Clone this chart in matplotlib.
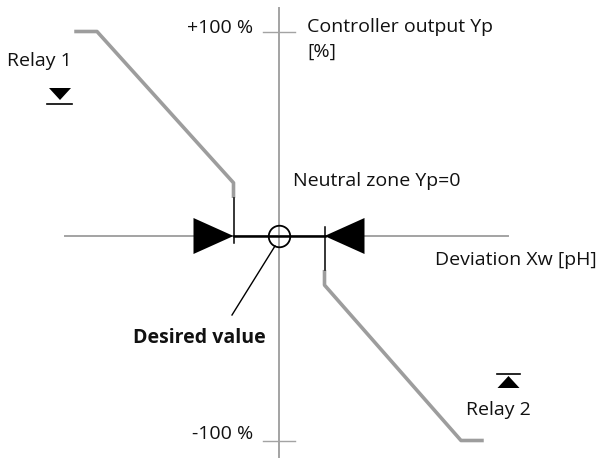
import matplotlib
matplotlib.use("Agg")
import matplotlib.pyplot as plt

plt.rcParams['font.family'] = ['Open Sans', 'DejaVu Sans']

# controller characteristic (x: deviation, y: controller output in %)
relay1_x = [-4.5, -4.0, -1.0, -1.0]
relay1_y = [100, 100, 26, 18.6]
relay2_x = [1.0, 1.0, 4.0, 4.5]
relay2_y = [-16.6, -24, -100, -100]
neutral_x = [-1.0, 1.0]
neutral_y = [0, 0]
tick1_y = [18.6, -3.4]
tick2_y = [4.4, -16.6]

# pixel <-> data (chart drawn on a 598x458 canvas)
X0, Y0, SX, SY = 279, 236, 45.5, 2.045
def dx(p): return (p - X0) / SX
def dy(p): return (Y0 - p) / SY

fig = plt.figure(figsize=(5.98, 4.58), dpi=100)
ax = fig.add_axes([0, 0, 1, 1])
ax.set_xlim(dx(0), dx(598))
ax.set_ylim(dy(458), dy(0))
ax.axis('off')

axc = '#a3a3a3'
ax.plot([dx(65), dx(508)], [0, 0], color=axc, lw=1.4, zorder=1)
ax.plot([0, 0], [dy(8), dy(457)], color=axc, lw=1.4, zorder=1)
for yv in (100, -100):
    ax.plot([dx(263), dx(295)], [yv, yv], color=axc, lw=1.0, zorder=1)

curve_c = '#9d9d9d'
ax.plot(relay1_x, relay1_y, color=curve_c, lw=2.6, solid_capstyle='butt', zorder=2)
ax.plot(relay2_x, relay2_y, color=curve_c, lw=2.6, solid_capstyle='butt', zorder=2)

ax.plot(neutral_x, neutral_y, color='black', lw=1.8, zorder=3)
ax.plot([neutral_x[0]] * 2, tick1_y, color='black', lw=1.1, zorder=3)
ax.plot([neutral_x[1]] * 2, tick2_y, color='black', lw=1.1, zorder=3)

# big triangles at the neutral zone limits
tw, th = 40 / SX, 18 / SY
ax.fill([neutral_x[0], neutral_x[0] - tw, neutral_x[0] - tw],
        [0, th, -th], color='black', lw=0, zorder=4)
ax.fill([neutral_x[1], neutral_x[1] + tw, neutral_x[1] + tw],
        [0, th, -th], color='black', lw=0, zorder=4)

# desired value circle + pointer
ax.plot([0], [0], marker='o', ms=15.5, mfc='none', mec='black', mew=1.3, zorder=5)
ax.plot([dx(275), dx(232)], [dy(246), dy(315)], color='black', lw=1.0)

# relay symbols
sw, sh = 11 / SX, 12 / SY
ax.fill([dx(60) - sw, dx(60) + sw, dx(60)], [dy(88), dy(88), dy(100)], color='black', lw=0)
ax.plot([dx(47), dx(72)], [dy(103.5), dy(103.5)], color='black', lw=1.2)
ax.fill([dx(508.5) - sw, dx(508.5) + sw, dx(508.5)], [dy(388), dy(388), dy(376)], color='black', lw=0)
ax.plot([dx(497), dx(520)], [dy(374), dy(374)], color='black', lw=1.2)

fs = 14
tc = '#111111'
ax.text(dx(253), dy(33), '+100 %', ha='right', va='baseline', fontsize=fs, color=tc)
ax.text(dx(253), dy(439), '-100 %', ha='right', va='baseline', fontsize=fs, color=tc)
ax.text(dx(7), dy(66), 'Relay 1', ha='left', va='baseline', fontsize=fs, color=tc)
ax.text(dx(466), dy(415), 'Relay 2', ha='left', va='baseline', fontsize=fs, color=tc)
ax.text(dx(307), dy(32), 'Controller output Yp', ha='left', va='baseline', fontsize=fs, color=tc)
ax.text(dx(307), dy(57), '[%]', ha='left', va='baseline', fontsize=fs, color=tc)
ax.text(dx(293), dy(186), 'Neutral zone Yp=0', ha='left', va='baseline', fontsize=fs, color=tc)
ax.text(dx(435), dy(265), 'Deviation Xw [pH]', ha='left', va='baseline', fontsize=fs, color=tc)
ax.text(dx(133), dy(343), 'Desired value', ha='left', va='baseline', fontsize=fs,
        fontweight='bold', color=tc)

fig.savefig('out.png', dpi=100)
